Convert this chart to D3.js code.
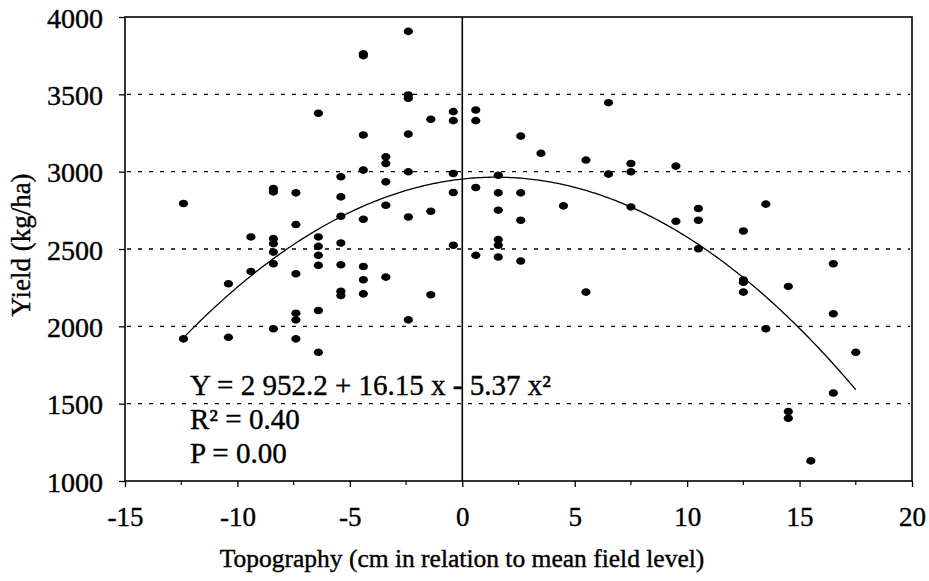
<!doctype html>
<html lang="en">
<head>
<meta charset="utf-8">
<title>Yield vs topography</title>
<script src="https://d3js.org/d3.v7.min.js"></script>
<style>
    body { margin: 0; background: #fff; }
    .grid line { stroke: #000; stroke-width: 1.4; stroke-dasharray: 4 7; }
</style>
</head>
<body>
<svg width="929" height="581"></svg>
<script>
    var topoCols = [-12.4, -10.4, -9.4, -8.4, -7.4, -6.4, -5.4, -4.4, -3.4, -2.4, -1.4, -0.4,
        0.6, 1.6, 2.6, 3.5, 4.5, 5.5, 6.5, 7.5, 9.5, 10.5, 12.5, 13.5, 14.5, 15.5, 16.5, 17.5];
    var yieldCols = [
        [2794, 1919],
        [2275, 1929],
        [2578, 2355],
        [2891, 2869, 2567, 2535, 2480, 2405, 1984],
        [2863, 2658, 2340, 2085, 2042, 1919],
        [3378, 2578, 2517, 2459, 2394, 2102, 1832],
        [2967, 2837, 2712, 2539, 2398, 2227, 2199],
        [3762, 3750, 3237, 3010, 2692, 2387, 2301, 2210],
        [3096, 3053, 2934, 2783, 2318],
        [3907, 3496, 3475, 3243, 2999, 2707, 2042],
        [3339, 2744, 2204],
        [3388, 3330, 2988, 2865, 2524],
        [3399, 3330, 2898, 2459],
        [2977, 2863, 2751, 2561, 2524, 2448],
        [3230, 2863, 2686, 2422],
        [3118],
        [2779],
        [3075, 2221],
        [3446, 2984],
        [3053, 2999, 2772],
        [3036, 2679],
        [2762, 2686, 2502],
        [2616, 2300, 2285, 2221],
        [2790, 1984],
        [2258, 1449, 1406],
        [1130],
        [2405, 2081, 1569],
        [1832]
    ];

    // fitted curve Y = a + b x + c x^2 as printed on the chart
    var trendCoef = [2952.2, 16.15, -5.37];
    var trendRange = [-12.4, 17.5];

    var xTicks = [-15, -10, -5, 0, 5, 10, 15, 20];
    var xMinorTicks = [-12.5, -7.5, -2.5, 2.5, 7.5, 12.5, 17.5];
    var yTicks = [1000, 1500, 2000, 2500, 3000, 3500, 4000];
    var gridTicks = [1500, 2000, 2500, 3000, 3500];
    var statLines = ["Y = 2 952.2 + 16.15 x - 5.37 x\u00b2", "R\u00b2 = 0.40", "P = 0.00"];

    var svg = d3.select("svg");
    var plotL = 125, plotR = 912, plotT = 17, plotB = 481;
    var serif = "'Liberation Serif'";

    var x = d3.scaleLinear().domain([-15, 20]).range([plotL, plotR]);
    var y = d3.scaleLinear().domain([1000, 4000]).range([plotB, plotT]);

    var points = [];
    topoCols.forEach(function (t, i) {
        yieldCols[i].forEach(function (v) { points.push({x: t, y: v}); });
    });

    // dotted horizontal grid
    svg.append("g").attr("class", "grid")
        .selectAll("line").data(gridTicks).enter().append("line")
        .attr("x1", plotL + 2).attr("x2", plotR - 2)
        .attr("y1", function (d) { return y(d); })
        .attr("y2", function (d) { return y(d); });

    // frame
    svg.append("rect")
        .attr("x", plotL).attr("y", plotT)
        .attr("width", plotR - plotL).attr("height", plotB - plotT)
        .attr("fill", "none").attr("stroke", "#000").attr("stroke-width", 1.6);

    // vertical line at x = 0
    svg.append("line")
        .attr("x1", x(0)).attr("x2", x(0))
        .attr("y1", plotT).attr("y2", plotB)
        .attr("stroke", "#000").attr("stroke-width", 1.6);

    // axes
    var yAxis = d3.axisLeft(y).tickValues(yTicks).tickSize(6).tickPadding(16)
        .tickFormat(d3.format("d"));
    var gy = svg.append("g").attr("transform", "translate(" + plotL + ",0)").call(yAxis);
    gy.select(".domain").remove();
    gy.selectAll(".tick line").attr("stroke-width", 1.3);
    gy.selectAll("text").attr("dy", "0.36em").style("font-size", "28px");

    var xAxis = d3.axisBottom(x).tickValues(xTicks).tickSize(6).tickPadding(20)
        .tickFormat(function (d) { return d < 0 ? "-" + Math.abs(d) : d; });
    var gx = svg.append("g").attr("transform", "translate(0," + plotB + ")").call(xAxis);
    gx.select(".domain").remove();
    gx.selectAll(".tick line").attr("stroke-width", 1.3);
    gx.selectAll("text").style("font-size", "27px");

    svg.append("g").selectAll("line").data(xMinorTicks).enter().append("line")
        .attr("x1", function (d) { return x(d); })
        .attr("x2", function (d) { return x(d); })
        .attr("y1", plotB).attr("y2", plotB + 4)
        .attr("stroke", "#000").attr("stroke-width", 1.2);

    // regression curve
    var curveXs = d3.range(trendRange[0], trendRange[1] + 0.001, 0.1);
    var line = d3.line()
        .x(function (d) { return x(d); })
        .y(function (d) { return y(trendCoef[0] + trendCoef[1] * d + trendCoef[2] * d * d); });
    svg.append("path")
        .datum(curveXs)
        .attr("d", line)
        .attr("fill", "none")
        .attr("stroke", "#000")
        .attr("stroke-width", 1.3);

    // data points
    svg.append("g").selectAll("ellipse").data(points).enter().append("ellipse")
        .attr("cx", function (d) { return x(d.x); })
        .attr("cy", function (d) { return y(d.y); })
        .attr("rx", 4.6).attr("ry", 3.8)
        .attr("fill", "#000");

    // equation block
    svg.append("g").selectAll("text").data(statLines).enter().append("text")
        .attr("x", 190)
        .attr("y", function (d, i) { return 395 + i * 34; })
        .style("font-size", "29px")
        .text(function (d) { return d; });

    // axis titles
    svg.append("text")
        .attr("x", 462).attr("y", 567)
        .attr("text-anchor", "middle")
        .style("font-size", "25.5px")
        .text("Topography (cm in relation to mean field level)");

    svg.append("text")
        .attr("transform", "translate(30,245) rotate(-90)")
        .attr("text-anchor", "middle")
        .style("font-size", "27px")
        .text("Yield (kg/ha)");

    // same serif face everywhere, slightly heavy like the print
    svg.selectAll("text")
        .style("font-family", serif)
        .style("fill", "#000")
        .style("stroke", "#000")
        .style("stroke-width", "0.4px");
</script>
</body>
</html>
